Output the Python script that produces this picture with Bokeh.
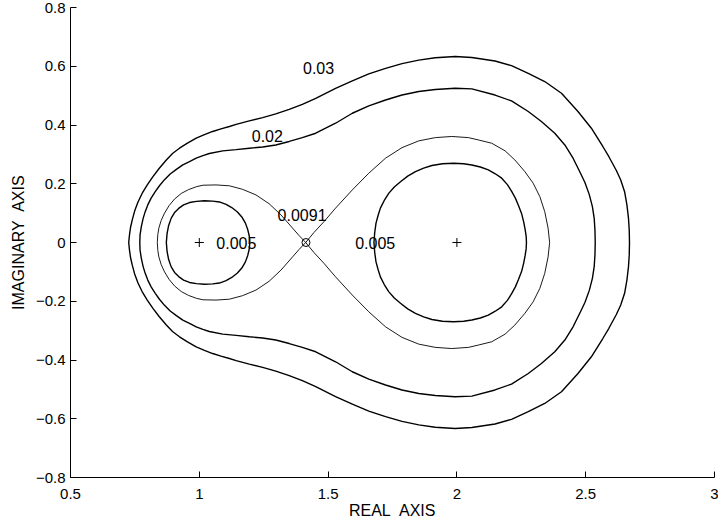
import numpy as np
from bokeh.plotting import figure
from bokeh.models import Range1d, FixedTicker, ColumnDataSource
from bokeh.core.properties import value
from bokeh.embed import file_html
from bokeh.resources import INLINE

# Upper halves (Im >= 0) of the level curves.
# The picture is symmetric about the real axis; the lower halves are mirrored.
x_003 = [0.726, 0.729, 0.733, 0.740, 0.749, 0.762, 0.778, 0.798, 0.820, 0.844, 0.872, 0.896, 0.923,
         0.954, 0.988, 1.020, 1.052, 1.084, 1.117, 1.143, 1.194, 1.246, 1.297, 1.349, 1.400, 1.452,
         1.529, 1.594, 1.658, 1.723, 1.787, 1.852, 1.916, 1.993, 2.058, 2.148, 2.212, 2.277, 2.341,
         2.406, 2.470, 2.522, 2.567, 2.590, 2.619, 2.636, 2.651, 2.660, 2.666, 2.669, 2.670]
y_003 = [0.0, 0.026, 0.051, 0.078, 0.107, 0.138, 0.167, 0.196, 0.224, 0.252, 0.281, 0.303, 0.321,
         0.338, 0.355, 0.367, 0.378, 0.387, 0.395, 0.402, 0.414, 0.425, 0.438, 0.453, 0.470, 0.491,
         0.525, 0.550, 0.574, 0.593, 0.609, 0.621, 0.629, 0.633, 0.630, 0.618, 0.602, 0.576, 0.548,
         0.508, 0.446, 0.389, 0.326, 0.292, 0.245, 0.213, 0.173, 0.128, 0.083, 0.043, 0.0]

x_002 = [0.769, 0.770, 0.775, 0.782, 0.790, 0.800, 0.813, 0.829, 0.846, 0.865, 0.887, 0.911, 0.936,
         0.962, 0.988, 1.014, 1.039, 1.091, 1.143, 1.194, 1.246, 1.297, 1.349, 1.400, 1.452, 1.529,
         1.594, 1.658, 1.723, 1.787, 1.852, 1.916, 1.993, 2.058, 2.148, 2.212, 2.277, 2.328, 2.380,
         2.419, 2.451, 2.477, 2.497, 2.514, 2.526, 2.533, 2.536, 2.537]
y_002 = [0.0, 0.026, 0.054, 0.082, 0.105, 0.128, 0.151, 0.173, 0.194, 0.214, 0.233, 0.249, 0.264,
         0.275, 0.287, 0.296, 0.303, 0.312, 0.316, 0.321, 0.325, 0.332, 0.344, 0.357, 0.372, 0.406,
         0.440, 0.465, 0.485, 0.502, 0.514, 0.521, 0.525, 0.523, 0.502, 0.482, 0.446, 0.412, 0.372,
         0.332, 0.287, 0.241, 0.204, 0.163, 0.122, 0.082, 0.041, 0.0]

x_0091 = [0.837, 0.839, 0.843, 0.852, 0.865, 0.883, 0.904, 0.930, 0.958, 0.989, 1.014, 1.065, 1.117,
          1.168, 1.220, 1.271, 1.317, 1.362, 1.387, 1.413, 1.445, 1.484, 1.529, 1.594, 1.658, 1.723,
          1.787, 1.852, 1.916, 1.980, 2.045, 2.084, 2.135, 2.187, 2.225, 2.264, 2.296, 2.322, 2.341,
          2.354, 2.360]
y_0091 = [0.0, 0.027, 0.049, 0.075, 0.100, 0.126, 0.148, 0.167, 0.180, 0.190, 0.195, 0.196, 0.193,
          0.181, 0.162, 0.132, 0.094, 0.049, 0.024, 0.0, 0.034, 0.071, 0.117, 0.179, 0.236, 0.287,
          0.323, 0.346, 0.357, 0.361, 0.357, 0.349, 0.338, 0.312, 0.281, 0.241, 0.202, 0.156, 0.105,
          0.049, 0.0]

x_005a = [0.872, 0.875, 0.881, 0.891, 0.904, 0.920, 0.939, 0.962, 0.989, 1.020, 1.052, 1.078, 1.104,
          1.126, 1.148, 1.165, 1.179, 1.188, 1.194, 1.196]
y_005a = [0.0, 0.031, 0.058, 0.083, 0.102, 0.116, 0.128, 0.136, 0.140, 0.142, 0.141, 0.138, 0.130,
          0.119, 0.104, 0.087, 0.066, 0.044, 0.022, 0.0]

x_005b = [1.678, 1.681, 1.686, 1.694, 1.703, 1.718, 1.736, 1.757, 1.781, 1.809, 1.839, 1.871, 1.903,
          1.944, 1.987, 2.026, 2.058, 2.091, 2.122, 2.149, 2.174, 2.196, 2.212, 2.227, 2.239, 2.251,
          2.259, 2.265, 2.269, 2.270]
y_005b = [0.0, 0.034, 0.066, 0.092, 0.117, 0.143, 0.168, 0.189, 0.207, 0.226, 0.241, 0.253, 0.262,
          0.268, 0.270, 0.268, 0.264, 0.257, 0.247, 0.234, 0.219, 0.197, 0.175, 0.151, 0.126, 0.099,
          0.071, 0.044, 0.020, 0.0]

label_text = ["0.03", "0.02", "0.0091", "0.005", "0.005"]
label_x = [1.463, 1.264, 1.399, 1.144, 1.683]
label_y = [0.593, 0.361, 0.092, 0.0, 0.0]

eig_x = [1.0, 2.0]
eig_y = [0.0, 0.0]
saddle_x = [1.4142]
saddle_y = [0.0]

x_ticks = [0.5, 1, 1.5, 2, 2.5, 3]
x_tick_labels = ["0.5", "1", "1.5", "2", "2.5", "3"]
y_ticks = [-0.8, -0.6, -0.4, -0.2, 0, 0.2, 0.4, 0.6, 0.8]
y_tick_labels = ["\u22120.8", "\u22120.6", "\u22120.4", "\u22120.2", "0", "0.2", "0.4", "0.6", "0.8"]


def closed(xs, ys):
    xs = list(xs)
    ys = list(ys)
    return xs + xs[::-1][1:], ys + [-v for v in ys[::-1][1:]]


FONT = "Liberation Sans"

p = figure(width=718, height=525, x_range=Range1d(0.5, 3), y_range=Range1d(-0.8, 0.8),
           output_backend="svg", toolbar_location=None,
           min_border_left=70, min_border_right=4, min_border_top=7, min_border_bottom=48)
p.background_fill_color = "white"
p.border_fill_color = "white"
p.outline_line_color = None
p.grid.visible = False

curves = [
    (x_003, y_003, 1.4),
    (x_002, y_002, 1.4),
    (x_0091, y_0091, 0.9),
    (x_005a, y_005a, 1.4),
    (x_005b, y_005b, 1.4),
]
for xs, ys, lw in curves:
    cx, cy = closed(xs, ys)
    p.line(cx, cy, line_color="black", line_width=lw, line_join="round")

p.scatter(eig_x, eig_y, marker="cross", size=9, line_color="black", line_width=1)
p.scatter(saddle_x, saddle_y, marker="circle", size=8, fill_color=None, line_color="black", line_width=1)

src = ColumnDataSource(dict(x=label_x, y=label_y, t=label_text))
p.text("x", "y", text="t", source=src, text_align="center", text_baseline="middle",
       text_font=value(FONT), text_font_size="16px", text_color="black")

for ax in (p.xaxis[0], p.yaxis[0]):
    ax.axis_line_color = "black"
    ax.axis_line_width = 1
    ax.major_tick_line_color = "black"
    ax.major_tick_in = 6
    ax.major_tick_out = 0
    ax.minor_tick_line_color = None
    ax.major_label_text_font = FONT
    ax.major_label_text_font_size = "15px"
    ax.major_label_text_color = "black"
    ax.axis_label_text_font = FONT
    ax.axis_label_text_font_size = "16px"
    ax.axis_label_text_font_style = "normal"
    ax.axis_label_text_color = "black"

p.xaxis.ticker = FixedTicker(ticks=x_ticks)
p.xaxis.major_label_overrides = dict(zip(x_ticks, x_tick_labels))
p.xaxis.major_label_standoff = 11
p.xaxis.axis_label = "REAL \u00a0AXIS"
p.xaxis.axis_label_standoff = 0

p.yaxis.ticker = FixedTicker(ticks=y_ticks)
p.yaxis.major_label_overrides = dict(zip(y_ticks, y_tick_labels))
p.yaxis.major_label_standoff = 5
p.yaxis.axis_label = "IMAGINARY \u00a0AXIS"
p.yaxis.axis_label_standoff = 6

open("out.html", "w").write(file_html(p, INLINE))
